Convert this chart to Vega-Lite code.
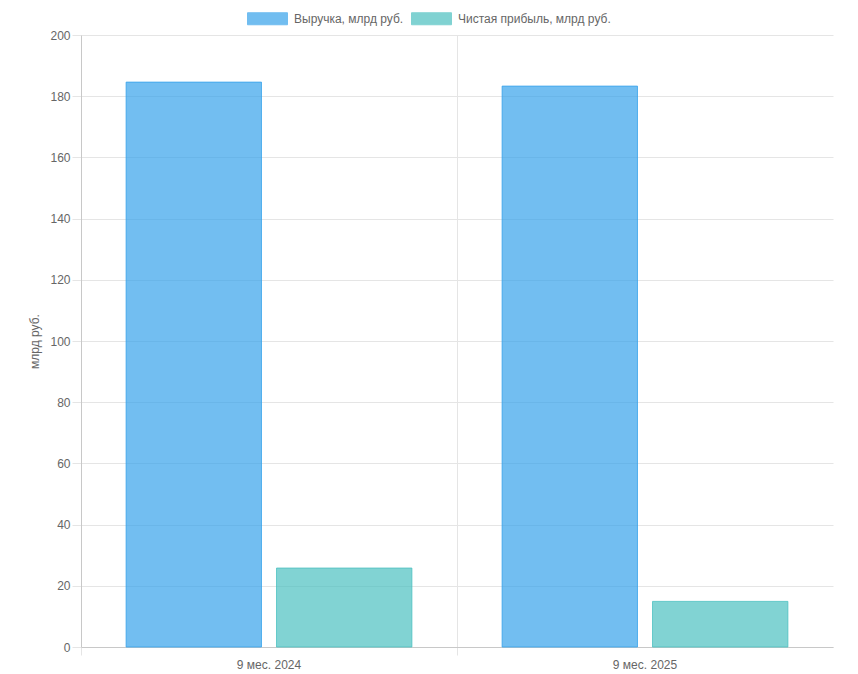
{
  "$schema": "https://vega.github.io/schema/vega-lite/v6.json",
  "width": 752,
  "height": 612,
  "autosize": {"type": "none"},
  "padding": {"left": 81, "top": 35, "right": 25, "bottom": 27},
  "background": "white",
  "data": {
    "values": [
      {"period": "9 мес. 2024", "series": "Выручка, млрд руб.", "value": 184.6},
      {"period": "9 мес. 2024", "series": "Чистая прибыль, млрд руб.", "value": 25.8},
      {"period": "9 мес. 2025", "series": "Выручка, млрд руб.", "value": 183.3},
      {"period": "9 мес. 2025", "series": "Чистая прибыль, млрд руб.", "value": 14.9}
    ]
  },
  "mark": {"type": "bar", "fillOpacity": 0.7, "strokeWidth": 1, "strokeOpacity": 0.8},
  "encoding": {
    "x": {
      "field": "period",
      "type": "nominal",
      "scale": {"paddingInner": 0, "paddingOuter": 0},
      "axis": {
        "title": null,
        "labelAngle": 0,
        "grid": true,
        "bandPosition": 0,
        "tickSize": 8,
        "labelPadding": 4
      }
    },
    "xOffset": {
      "field": "series",
      "sort": ["Выручка, млрд руб.", "Чистая прибыль, млрд руб."],
      "scale": {"paddingInner": 0.1, "paddingOuter": 0.3}
    },
    "y": {
      "field": "value",
      "type": "quantitative",
      "scale": {"domain": [0, 200], "nice": false},
      "axis": {
        "title": "млрд руб.",
        "values": [0, 20, 40, 60, 80, 100, 120, 140, 160, 180, 200],
        "tickSize": 9,
        "labelPadding": 2,
        "titlePadding": 8
      }
    },
    "color": {
      "field": "series",
      "type": "nominal",
      "scale": {
        "domain": ["Выручка, млрд руб.", "Чистая прибыль, млрд руб."],
        "range": ["#36a2eb", "#4bc0c0"]
      },
      "legend": {
        "title": null,
        "orient": "none",
        "direction": "horizontal",
        "legendX": 166,
        "legendY": -37,
        "symbolType": "M-1,-0.3H1V0.3H-1Z",
        "symbolSize": 1600,
        "symbolStrokeWidth": 1,
        "symbolOpacity": 0.7,
        "labelOffset": 6,
        "columnPadding": 5
      }
    },
    "stroke": {
      "field": "series",
      "type": "nominal",
      "scale": {
        "domain": ["Выручка, млрд руб.", "Чистая прибыль, млрд руб."],
        "range": ["#36a2eb", "#4bc0c0"]
      },
      "legend": null
    }
  },
  "config": {
    "font": "Liberation Sans",
    "view": {"stroke": null},
    "axis": {
      "labelFont": "Liberation Sans",
      "labelFontSize": 12,
      "labelColor": "#666666",
      "titleFont": "Liberation Sans",
      "titleFontSize": 12,
      "titleFontWeight": "normal",
      "titleColor": "#666666",
      "gridColor": "#e5e5e5",
      "domainColor": "#c8c8c8",
      "tickColor": "#e5e5e5"
    },
    "legend": {
      "labelFont": "Liberation Sans",
      "labelFontSize": 12,
      "labelColor": "#666666"
    }
  }
}
